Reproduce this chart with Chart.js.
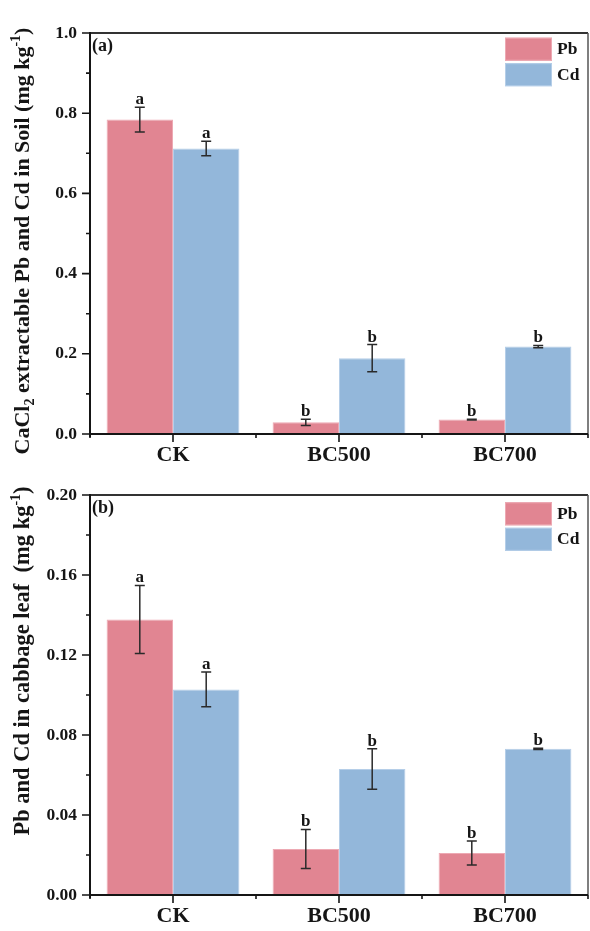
<!DOCTYPE html>
<html><head><meta charset="utf-8">
<script src="https://cdn.jsdelivr.net/npm/chart.js@4.4.0/dist/chart.umd.min.js"></script>
<style>
html,body{margin:0;padding:0;background:#fff;}
#wrap{width:590px;height:931px;position:relative;}
canvas{position:absolute;left:0;display:block;}
</style></head><body>
<div id="wrap">
<canvas id="c1" width="590" height="465" style="top:0"></canvas>
<canvas id="c2" width="590" height="466" style="top:465px"></canvas>
</div>
<script>
// ---- data ----
const categories = ['CK', 'BC500', 'BC700'];
const seriesNames = ['Pb', 'Cd'];

const soilPb = [0.784, 0.029, 0.036];
const soilPbErr = [0.031, 0.008, 0.001];
const soilCd = [0.712, 0.189, 0.218];
const soilCdErr = [0.018, 0.034, 0.003];
const soilPbLetters = ['a', 'b', 'b'];
const soilCdLetters = ['a', 'b', 'b'];
const soilTicks = [0, 0.2, 0.4, 0.6, 0.8, 1.0];

const leafPb = [0.1378, 0.0230, 0.0210];
const leafPbErr = [0.0170, 0.0098, 0.0060];
const leafCd = [0.1028, 0.0630, 0.0731];
const leafCdErr = [0.0087, 0.0101, 0.0003];
const leafPbLetters = ['a', 'b', 'b'];
const leafCdLetters = ['a', 'b', 'b'];
const leafTicks = [0, 0.04, 0.08, 0.12, 0.16, 0.20];

// ---- style ----
const SERIF = '"Liberation Serif", "Times New Roman", serif';
const PB_FILL = '#E18592', PB_EDGE = '#EDA9B3';
const CD_FILL = '#93B7DA', CD_EDGE = '#B5CEE8';
const INK = '#151515';

function drawRich(ctx, segs, cx, cy, size) {
  const small = Math.round(size * 0.62);
  let total = 0;
  const parts = segs.map(([t, k]) => {
    ctx.font = 'bold ' + (k === 'n' ? size : small) + 'px ' + SERIF;
    const w = ctx.measureText(t).width;
    total += w;
    return {t, k, w};
  });
  let x = cx - total / 2;
  ctx.textBaseline = 'alphabetic';
  ctx.textAlign = 'left';
  const base = cy + size * 0.33;
  for (const p of parts) {
    ctx.font = 'bold ' + (p.k === 'n' ? size : small) + 'px ' + SERIF;
    let y = base;
    if (p.k === 'sub') y = base + size * 0.2;
    if (p.k === 'sup') y = base - size * 0.42;
    ctx.fillText(p.t, x, y);
    x += p.w;
  }
}

const decor = {
  id: 'decor',
  afterDatasetsDraw(chart) {
    const o = chart.options.plugins.decor;
    const ctx = chart.ctx;
    const a = chart.chartArea;
    const xs = chart.scales.x, ys = chart.scales.y;
    ctx.save();
    // error bars + letters
    chart.data.datasets.forEach((ds, di) => {
      const meta = chart.getDatasetMeta(di);
      meta.data.forEach((bar, i) => {
        const v = ds.data[i], e = ds.errors[i];
        const yt = ys.getPixelForValue(v + e), yb = ys.getPixelForValue(v - e);
        const x = bar.x;
        ctx.strokeStyle = '#2a2a2a';
        ctx.lineWidth = 1.5;
        ctx.beginPath();
        ctx.moveTo(x, yt); ctx.lineTo(x, yb);
        ctx.moveTo(x - 5, yt); ctx.lineTo(x + 5, yt);
        ctx.moveTo(x - 5, yb); ctx.lineTo(x + 5, yb);
        ctx.stroke();
        ctx.fillStyle = INK;
        ctx.font = 'bold 17px ' + SERIF;
        ctx.textAlign = 'center';
        ctx.textBaseline = 'alphabetic';
        ctx.fillText(ds.letters[i], x, yt - 3);
      });
    });
    // frame
    ctx.strokeStyle = '#333';
    ctx.lineWidth = 2;
    ctx.beginPath();
    ctx.moveTo(a.left, a.top); ctx.lineTo(a.right, a.top);
    ctx.stroke();
    ctx.strokeStyle = '#555';
    ctx.lineWidth = 1.5;
    ctx.beginPath();
    ctx.moveTo(a.right, a.top); ctx.lineTo(a.right, a.bottom);
    ctx.stroke();
    ctx.strokeStyle = INK;
    ctx.lineWidth = 2;
    ctx.beginPath();
    ctx.moveTo(a.left, a.top - 1); ctx.lineTo(a.left, a.bottom + 3);
    ctx.moveTo(a.left, a.bottom); ctx.lineTo(a.right, a.bottom);
    ctx.stroke();
    // y ticks
    ctx.lineWidth = 1.6;
    ctx.beginPath();
    const tv = o.ticks;
    tv.forEach((v, i) => {
      const y = ys.getPixelForValue(v);
      ctx.moveTo(a.left, y); ctx.lineTo(a.left - 8, y);
      if (i < tv.length - 1) {
        const ym = ys.getPixelForValue((v + tv[i + 1]) / 2);
        ctx.moveTo(a.left, ym); ctx.lineTo(a.left - 4, ym);
      }
    });
    // x ticks
    const n = categories.length;
    const step = xs.getPixelForValue(1) - xs.getPixelForValue(0);
    for (let i = 0; i < n; i++) {
      const x = xs.getPixelForValue(i);
      ctx.moveTo(x, a.bottom); ctx.lineTo(x, a.bottom + 8);
      ctx.moveTo(x - step / 2, a.bottom); ctx.lineTo(x - step / 2, a.bottom + 4);
    }
    ctx.moveTo(xs.getPixelForValue(n - 1) + step / 2, a.bottom);
    ctx.lineTo(xs.getPixelForValue(n - 1) + step / 2, a.bottom + 4);
    ctx.stroke();
    // legend
    chart.data.datasets.forEach((ds, di) => {
      const bx = a.right - 83, by = a.top + o.legendTop + di * 25.5;
      ctx.fillStyle = ds.backgroundColor;
      ctx.fillRect(bx, by, 47, 23);
      ctx.strokeStyle = ds.borderColor;
      ctx.lineWidth = 1;
      ctx.strokeRect(bx + 0.5, by + 0.5, 46, 22);
      ctx.fillStyle = INK;
      ctx.font = 'bold 17.5px ' + SERIF;
      ctx.textAlign = 'left';
      ctx.textBaseline = 'middle';
      ctx.fillText(ds.label, bx + 52, by + 12);
    });
    // panel label
    ctx.fillStyle = INK;
    ctx.font = 'bold 18px ' + SERIF;
    ctx.textAlign = 'left';
    ctx.textBaseline = 'middle';
    ctx.fillText(o.panel, a.left + 2, a.top + o.panelDy);
    // y title
    ctx.save();
    ctx.translate(o.titleX, o.titleY);
    ctx.rotate(-Math.PI / 2);
    ctx.fillStyle = INK;
    drawRich(ctx, o.title, 0, 0, o.titleSize);
    ctx.restore();
    ctx.restore();
  }
};

function makeChart(id, cfg) {
  const H = document.getElementById(id).height;
  return new Chart(document.getElementById(id), {
    type: 'bar',
    data: {
      labels: categories,
      datasets: [
        {label: seriesNames[0], data: cfg.pb, errors: cfg.pbErr, letters: cfg.pbL,
         backgroundColor: PB_FILL, borderColor: PB_EDGE, borderWidth: 1},
        {label: seriesNames[1], data: cfg.cd, errors: cfg.cdErr, letters: cfg.cdL,
         backgroundColor: CD_FILL, borderColor: CD_EDGE, borderWidth: 1}
      ]
    },
    options: {
      responsive: false,
      animation: false,
      events: [],
      categoryPercentage: 0.8,
      barPercentage: 1.0,
      layout: {padding: {top: cfg.top, right: 2, left: 0, bottom: 0}},
      scales: {
        x: {
          type: 'category', offset: true,
          grid: {display: false, drawTicks: false},
          border: {display: false},
          ticks: {color: INK, padding: 8, font: {family: SERIF, weight: 'bold', size: 22}},
          afterFit(s) { s.height = H - cfg.bottom; }
        },
        y: {
          min: 0, max: cfg.ticks[cfg.ticks.length - 1],
          afterBuildTicks(s) { s.ticks = cfg.ticks.map(v => ({value: v})); },
          grid: {display: false, drawTicks: false},
          border: {display: false},
          ticks: {color: INK, padding: 13, font: {family: SERIF, weight: 'bold', size: 17.5},
                  callback: v => v.toFixed(cfg.dec)},
          afterFit(s) { s.width = 90; }
        }
      },
      plugins: {
        legend: {display: false},
        tooltip: {enabled: false},
        decor: {ticks: cfg.ticks, panel: cfg.panel, panelDy: cfg.panelDy, legendTop: cfg.legendTop,
                title: cfg.title, titleX: 22, titleY: cfg.titleY, titleSize: cfg.titleSize}
      }
    },
    plugins: [decor]
  });
}

makeChart('c1', {
  pb: soilPb, pbErr: soilPbErr, pbL: soilPbLetters,
  cd: soilCd, cdErr: soilCdErr, cdL: soilCdLetters,
  ticks: soilTicks, dec: 1, top: 33, bottom: 434,
  panel: '(a)', panelDy: 13, legendTop: 4.7, titleY: 241, titleSize: 22,
  title: [['CaCl', 'n'], ['2', 'sub'], [' extractable Pb and Cd in Soil (mg kg', 'n'], ['-1', 'sup'], [')', 'n']]
});
makeChart('c2', {
  pb: leafPb, pbErr: leafPbErr, pbL: leafPbLetters,
  cd: leafCd, cdErr: leafCdErr, cdL: leafCdLetters,
  ticks: leafTicks, dec: 2, top: 30, bottom: 430,
  panel: '(b)', panelDy: 13, legendTop: 7.3, titleY: 196, titleSize: 22.5,
  title: [['Pb and Cd in cabbage leaf  (mg kg', 'n'], ['-1', 'sup'], [')', 'n']]
});
</script>
</body></html>
